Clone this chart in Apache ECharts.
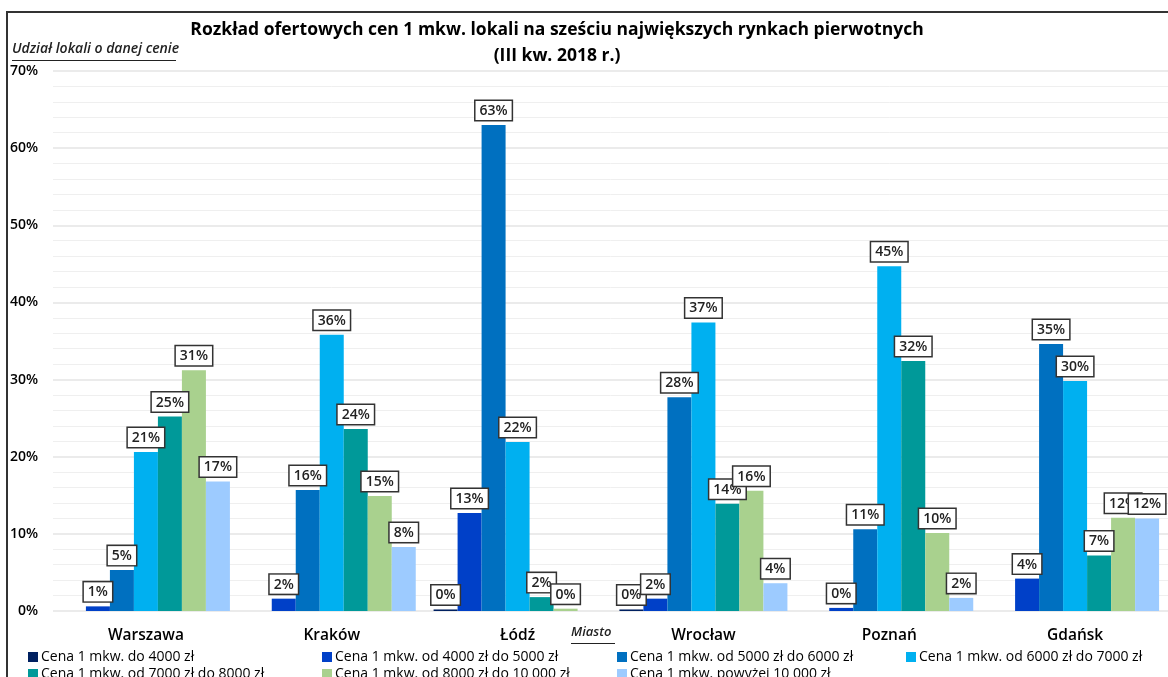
<!DOCTYPE html>
<html>
<head>
<meta charset="utf-8">
<script src="https://cdn.jsdelivr.net/npm/echarts@6/dist/echarts.min.js"></script>
<style>
  html, body { margin: 0; padding: 0; background: #fff; }
  #chart { width: 1168px; height: 677px; }
</style>
</head>
<body>
<div id="chart"></div>
<script>
// dane: udział lokali (%) w przedziałach cen, kolejno miasta
const cities = ["Warszawa", "Kraków", "Łódź", "Wrocław", "Poznań", "Gdańsk"];
const seriesNames = [
  "Cena 1 mkw. do 4000 zł",
  "Cena 1 mkw. od 4000 zł do 5000 zł",
  "Cena 1 mkw. od 5000 zł do 6000 zł",
  "Cena 1 mkw. od 6000 zł do 7000 zł",
  "Cena 1 mkw. od 7000 zł do 8000 zł",
  "Cena 1 mkw. od 8000 zł do 10 000 zł",
  "Cena 1 mkw. powyżej 10 000 zł"
];
const do4000 = [null, null, 0.2, 0.2, null, null];
const od4000do5000 = [0.6, 1.6, 12.7, 1.6, 0.4, 4.2];
const od5000do6000 = [5.3, 15.7, 63.0, 27.7, 10.6, 34.6];
const od6000do7000 = [20.6, 35.8, 21.9, 37.4, 44.7, 29.8];
const od7000do8000 = [25.2, 23.6, 1.8, 13.9, 32.4, 7.2];
const od8000do10000 = [31.2, 14.9, 0.3, 15.6, 10.1, 12.1];
const powyzej10000 = [16.8, 8.3, null, 3.6, 1.7, 12.0];

const values = [do4000, od4000do5000, od5000do6000, od6000do7000, od7000do8000, od8000do10000, powyzej10000];
const colors = ["#002060", "#0040C8", "#0070C0", "#00B0F0", "#009999", "#A9D18E", "#9DCBFF"];

const font = "'Open Sans', 'Noto Sans', sans-serif";

let chart = echarts.init(document.getElementById("chart"));

// legenda w dwóch wierszach, stałe kolumny
const legendPos = [[28, 650], [322, 650], [617, 650], [906, 650], [28, 667], [322, 667], [617, 667]];
const legends = seriesNames.map((name, i) => ({
  data: [name],
  left: legendPos[i][0],
  top: legendPos[i][1],
  itemWidth: 10,
  itemHeight: 10,
  itemGap: 4,
  padding: 0,
  selectedMode: false,
  icon: "rect",
  textStyle: { fontFamily: font, fontSize: 14, color: "#000", padding: [0, 0, 0, -2] }
}));

let option = {
  animation: false,
  backgroundColor: "#fff",
  textStyle: { fontFamily: font },
  title: {
    text: "Rozkład ofertowych cen 1 mkw. lokali na sześciu największych rynkach pierwotnych\n(III kw. 2018 r.)",
    left: 557,
    textAlign: "center",
    top: 17,
    padding: 0,
    textStyle: { fontFamily: font, fontSize: 17.5, fontWeight: "bold", color: "#000", lineHeight: 26 }
  },
  legend: legends,
  grid: { left: 53, top: 71, width: 1125, height: 540, containLabel: false },
  xAxis: {
    type: "category",
    data: cities,
    axisLine: { show: false },
    axisTick: { show: false },
    axisLabel: { fontFamily: font, fontSize: 15.5, fontWeight: 600, color: "#000", margin: 17 }
  },
  yAxis: {
    type: "value",
    min: 0,
    max: 70,
    interval: 10,
    axisLine: { show: false },
    axisTick: { show: false },
    axisLabel: { formatter: "{value}%", fontFamily: font, fontSize: 14, fontWeight: 600, color: "#000", margin: 15 },
    splitLine: { lineStyle: { color: "#e4e4e4", width: 1.5 } },
    minorTick: { show: false, splitNumber: 5 },
    minorSplitLine: { show: true, lineStyle: { color: "#efefef", width: 1 } }
  },
  series: values.map((data, i) => ({
    name: seriesNames[i],
    type: "bar",
    data: data,
    barWidth: 24,
    barGap: "0%",
    itemStyle: { color: colors[i] },
    label: {
      show: true,
      position: "top",
      distance: 5,
      formatter: (p) => p.value == null ? "" : Math.round(p.value) + "%",
      fontFamily: font,
      fontSize: 14,
      fontWeight: 600,
      color: "#222",
      backgroundColor: "#fff",
      borderColor: "#333",
      borderWidth: 1.5,
      padding: [3, 4, 2, 4]
    }
  })),
  graphic: [
    {
      type: "rect",
      shape: { x: 7, y: 12, width: 1200, height: 700 },
      style: { fill: null, stroke: "#333", lineWidth: 2 },
      silent: true
    },
    {
      type: "text",
      left: 12,
      top: 42,
      style: { text: "Udział lokali o danej cenie", font: "italic 600 14px " + font, fill: "#222" }
    },
    {
      type: "line",
      shape: { x1: 12, y1: 60.5, x2: 176, y2: 60.5 },
      style: { stroke: "#222", lineWidth: 1 }
    },
    {
      type: "text",
      left: 571,
      top: 626,
      style: { text: "Miasto", font: "italic 600 13px " + font, fill: "#222" }
    },
    {
      type: "line",
      shape: { x1: 571, y1: 643.5, x2: 615, y2: 643.5 },
      style: { stroke: "#222", lineWidth: 1 }
    }
  ]
};

option && chart.setOption(option);
</script>
</body>
</html>
